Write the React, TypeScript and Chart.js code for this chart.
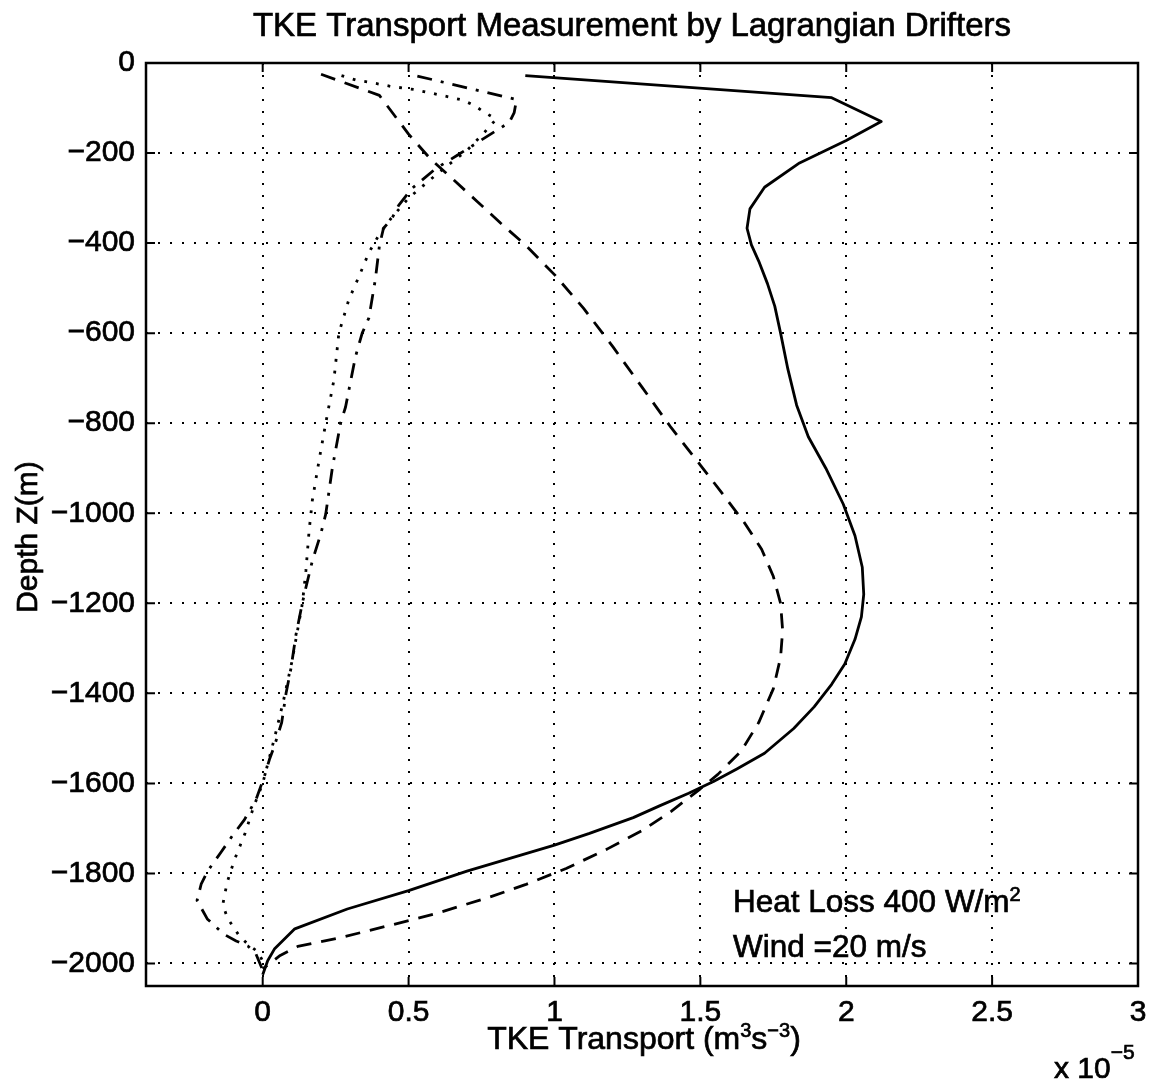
import React, { useEffect, useRef } from "react";
import { Chart, registerables } from "chart.js";

Chart.register(...registerables);

// ---- data (x in units of 1e-5 m^3 s^-3, z = depth in m) ----
const xTicks = [0, 0.5, 1, 1.5, 2, 2.5, 3];
const xTickLabels = ["0", "0.5", "1", "1.5", "2", "2.5", "3"];
const zTicks = [0, -200, -400, -600, -800, -1000, -1200, -1400, -1600, -1800, -2000];
const zTickLabels = ["0", "\u2212200", "\u2212400", "\u2212600", "\u2212800", "\u22121000", "\u22121200", "\u22121400", "\u22121600", "\u22121800", "\u22122000"];

const solidX = [0.90, 1.95, 2.12, 2.00, 1.84, 1.72, 1.67, 1.66, 1.675, 1.70, 1.73, 1.755, 1.775, 1.80, 1.83, 1.87, 1.93, 1.99, 2.03, 2.055, 2.06, 2.052, 2.03, 1.995, 1.95, 1.89, 1.82, 1.72, 1.625, 1.545, 1.46, 1.36, 1.27, 1.12, 1.00, 0.85, 0.70, 0.50, 0.29, 0.11, 0.04, 0.017, 0.0];
const solidZ = [-28, -77, -130, -172, -222, -276, -324, -367, -404, -440, -490, -540, -600, -680, -760, -830, -900, -980, -1050, -1120, -1180, -1230, -1280, -1335, -1380, -1430, -1478, -1533, -1568, -1596, -1622, -1650, -1676, -1711, -1737, -1766, -1795, -1838, -1879, -1923, -1968, -1994, -2025];

const dashX = [0.20, 0.40, 0.50, 0.575, 0.655, 0.736, 0.816, 0.90, 1.0, 1.10, 1.20, 1.30, 1.40, 1.50, 1.58, 1.65, 1.71, 1.75, 1.775, 1.782, 1.775, 1.75, 1.70, 1.64, 1.56, 1.50, 1.40, 1.30, 1.18, 1.04, 0.90, 0.78, 0.59, 0.45, 0.27, 0.12, 0.06, 0.0];
const dashZ = [-25, -72, -158, -213, -260, -308, -356, -404, -470, -545, -630, -720, -810, -893, -960, -1020, -1080, -1140, -1200, -1260, -1320, -1390, -1465, -1528, -1580, -1612, -1662, -1705, -1746, -1789, -1825, -1852, -1890, -1913, -1942, -1962, -1982, -2012];

const dashDotX = [0.53, 0.87, 0.862, 0.845, 0.747, 0.667, 0.592, 0.511, 0.466, 0.443, 0.414, 0.40, 0.386, 0.364, 0.341, 0.318, 0.284, 0.267, 0.239, 0.216, 0.199, 0.17, 0.148, 0.136, 0.114, 0.097, 0.08, 0.065, 0.04, 0.023, 0.006, -0.023, -0.063, -0.108, -0.143, -0.188, -0.211, -0.225, -0.19, -0.133, -0.091, -0.051, -0.023, 0.0];
const dashDotZ = [-29, -81, -110, -132, -172, -205, -235, -279, -316, -345, -367, -406, -481, -566, -600, -652, -764, -800, -898, -1002, -1046, -1106, -1165, -1199, -1270, -1344, -1400, -1465, -1517, -1547, -1584, -1636, -1681, -1720, -1753, -1794, -1824, -1860, -1901, -1935, -1950, -1961, -1979, -2015];

const dotX = [0.27, 0.32, 0.36, 0.40, 0.44, 0.52, 0.60, 0.684, 0.724, 0.759, 0.80, 0.76, 0.70, 0.60, 0.50, 0.44, 0.40, 0.364, 0.33, 0.295, 0.261, 0.244, 0.216, 0.193, 0.17, 0.159, 0.148, 0.136, 0.125, 0.10, 0.07, 0.04, 0.0, -0.03, -0.06, -0.097, -0.122, -0.137, -0.12, -0.08, -0.051, -0.015, 0.0];
const dotZ = [-28, -38, -42, -47, -52, -59, -70, -82, -94, -109, -125, -154, -194, -245, -300, -345, -380, -421, -474, -526, -600, -704, -800, -883, -972, -1039, -1128, -1200, -1240, -1330, -1420, -1500, -1600, -1650, -1710, -1770, -1820, -1870, -1900, -1939, -1957, -1975, -1995];

const titleText = "TKE Transport Measurement by Lagrangian Drifters";
const yTitle = "Depth Z(m)";
const noteLine1 = "Heat Loss 400 W/m";
const noteLine1Sup = "2";
const noteLine2 = "Wind =20 m/s";
const scaleText = "x 10";
const scaleSup = "\u22125";

const FONT = '"Liberation Sans", Arial, Helvetica, sans-serif';
const TEXT_STROKE = 0.7;

const toPts = (xs: number[], zs: number[]) => xs.map((x, i) => ({ x, y: zs[i] }));

type Seg = { t: string; sup?: boolean };

function fillStroke(ctx: CanvasRenderingContext2D, t: string, x: number, y: number) {
  ctx.fillText(t, x, y);
  ctx.lineWidth = TEXT_STROKE;
  ctx.strokeText(t, x, y);
}

function drawRich(ctx: CanvasRenderingContext2D, segs: Seg[], cx: number, baseline: number, size: number, supSize: number, supRise: number, align: "center" | "left") {
  let total = 0;
  for (const s of segs) {
    ctx.font = `${s.sup ? supSize : size}px ${FONT}`;
    total += ctx.measureText(s.t).width;
  }
  let x = align === "center" ? cx - total / 2 : cx;
  ctx.textAlign = "left";
  ctx.textBaseline = "alphabetic";
  for (const s of segs) {
    ctx.font = `${s.sup ? supSize : size}px ${FONT}`;
    fillStroke(ctx, s.t, x, s.sup ? baseline - supRise : baseline);
    x += ctx.measureText(s.t).width;
  }
}

const decorPlugin = {
  id: "decor",
  afterDraw(chart: any) {
    const ctx: CanvasRenderingContext2D = chart.ctx;
    const { left, right, top, bottom } = chart.chartArea;
    const xs = chart.scales.x;
    const ys = chart.scales.y;
    ctx.save();
    ctx.strokeStyle = "#000";
    ctx.fillStyle = "#000";
    ctx.setLineDash([]);
    // frame
    ctx.lineWidth = 2.5;
    ctx.strokeRect(left, top, right - left, bottom - top);
    // inward ticks
    ctx.lineWidth = 2;
    const tl = 9;
    ctx.beginPath();
    for (const v of xTicks) {
      const px = xs.getPixelForValue(v);
      ctx.moveTo(px, bottom); ctx.lineTo(px, bottom - tl);
      ctx.moveTo(px, top); ctx.lineTo(px, top + tl);
    }
    for (const v of zTicks) {
      const py = ys.getPixelForValue(v);
      ctx.moveTo(left, py); ctx.lineTo(left + tl, py);
      ctx.moveTo(right, py); ctx.lineTo(right - tl, py);
    }
    ctx.stroke();

    // title
    ctx.font = `33px ${FONT}`;
    ctx.textAlign = "center";
    ctx.textBaseline = "alphabetic";
    fillStroke(ctx, titleText, 632, 36);

    // y-axis title
    ctx.save();
    ctx.translate(37, 537);
    ctx.rotate(-Math.PI / 2);
    ctx.font = `30px ${FONT}`;
    ctx.textAlign = "center";
    fillStroke(ctx, yTitle, 0, 0);
    ctx.restore();

    // x-axis title
    drawRich(ctx, [
      { t: "TKE Transport (m" }, { t: "3", sup: true }, { t: "s" }, { t: "\u22123", sup: true }, { t: ")" },
    ], 644, 1049, 32, 20, 12, "center");

    // scale factor
    drawRich(ctx, [{ t: scaleText }, { t: scaleSup, sup: true }], 1054, 1078, 30, 21, 19, "left");

    // annotation
    drawRich(ctx, [{ t: noteLine1 }, { t: noteLine1Sup, sup: true }], 733, 912, 31.5, 20, 11, "left");
    drawRich(ctx, [{ t: noteLine2 }], 733, 957, 31.5, 20, 11, "left");
    ctx.restore();
  },
};

export default function App() {
  const ref = useRef<HTMLCanvasElement | null>(null);
  useEffect(() => {
    if (!ref.current) return;
    const common = { showLine: true, pointRadius: 0, borderColor: "#000", backgroundColor: "#000", borderWidth: 2.8, fill: false, tension: 0, borderJoinStyle: "round" as const };
    const chart = new Chart(ref.current, {
      type: "scatter",
      data: {
        datasets: [
          { ...common, label: "solid", data: toPts(solidX, solidZ) },
          { ...common, label: "dashed", data: toPts(dashX, dashZ), borderDash: [15, 10] },
          { ...common, label: "dashdot", data: toPts(dashDotX, dashDotZ), borderDash: [15, 9, 3, 9] },
          { ...common, label: "dotted", data: toPts(dotX, dotZ), borderDash: [2.8, 9] },
        ],
      },
      options: {
        responsive: false,
        animation: false,
        devicePixelRatio: 1,
        layout: { padding: { top: 63, right: 13, left: 0, bottom: 0 } },
        plugins: { legend: { display: false }, title: { display: false }, tooltip: { enabled: false } },
        scales: {
          x: {
            type: "linear",
            min: -0.4,
            max: 3,
            afterBuildTicks: (s: any) => { s.ticks = xTicks.map((v) => ({ value: v })); },
            afterFit: (s: any) => { s.height = 98; s.paddingLeft = 0; s.paddingRight = 0; },
            ticks: {
              color: "#000",
              font: { family: FONT, size: 30 },
              textStrokeColor: "#000",
              textStrokeWidth: TEXT_STROKE,
              padding: 9,
              maxRotation: 0,
              autoSkip: false,
              callback: (v: any) => { const i = xTicks.findIndex((t) => Math.abs(t - v) < 1e-9); return i >= 0 ? xTickLabels[i] : ""; },
            },
            grid: { color: "#000", lineWidth: 2, drawTicks: false },
            border: { display: false, dash: [2, 10] },
          },
          y: {
            type: "linear",
            min: -2050,
            max: 0,
            afterBuildTicks: (s: any) => { s.ticks = zTicks.map((v) => ({ value: v })); },
            afterFit: (s: any) => { s.width = 146; s.paddingTop = 0; s.paddingBottom = 0; },
            ticks: {
              color: "#000",
              font: { family: FONT, size: 30 },
              textStrokeColor: "#000",
              textStrokeWidth: TEXT_STROKE,
              padding: 11,
              autoSkip: false,
              callback: (v: any) => { const i = zTicks.findIndex((t) => Math.abs(t - v) < 1e-9); return i >= 0 ? zTickLabels[i] : ""; },
            },
            grid: { color: "#000", lineWidth: 2, drawTicks: false },
            border: { display: false, dash: [2, 10] },
          },
        },
      } as any,
      plugins: [decorPlugin],
    });
    return () => chart.destroy();
  }, []);
  return (
    <div style={{ position: "absolute", left: 0, top: 0, width: 1151, height: 1084, background: "#fff" }}>
      <canvas ref={ref} width={1151} height={1084} style={{ display: "block", width: 1151, height: 1084 }} />
    </div>
  );
}
